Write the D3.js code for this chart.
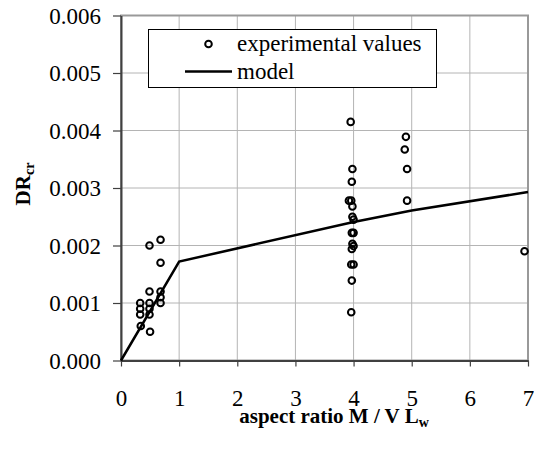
<!DOCTYPE html>
<html>
<head>
<meta charset="utf-8">
<script src="https://cdn.jsdelivr.net/npm/d3@7"></script>
<style>
  body { margin: 0; background: #fff; }
  svg text { font-family: "Liberation Serif", "Times New Roman", serif; fill: #000; }
</style>
</head>
<body>
<div id="chart-area"></div>
<script>
// values
var expX = [0.33, 0.33, 0.33, 0.34,
            0.49, 0.49, 0.49, 0.49, 0.49, 0.50,
            0.68, 0.68, 0.68, 0.68, 0.68,
            3.95, 3.98, 3.97, 3.92, 3.96, 3.98, 3.98, 4.00, 3.97, 4.00, 3.98, 4.00, 3.97, 3.96, 4.00, 3.97, 3.96,
            4.90, 4.88, 4.92, 4.92,
            6.94];
var expY = [0.0010, 0.0009, 0.0008, 0.0006,
            0.0020, 0.0012, 0.0010, 0.0009, 0.0008, 0.0005,
            0.0021, 0.0017, 0.0012, 0.0011, 0.0010,
            0.00415, 0.00333, 0.00311, 0.00278, 0.00278, 0.00268, 0.00250, 0.00245, 0.00222, 0.00222, 0.00203, 0.00199, 0.00194, 0.00167, 0.00167, 0.00139, 0.00084,
            0.00389, 0.00367, 0.00333, 0.00278,
            0.00190];
var modelX = [0, 1, 4, 5, 7];
var modelY = [0, 0.00172, 0.00241, 0.00261, 0.00293];
var xTicks = [0, 1, 2, 3, 4, 5, 6, 7];
var yTicks = [0, 0.001, 0.002, 0.003, 0.004, 0.005, 0.006];
var legendLabels = ["experimental values", "model"];

var margin = {top: 15.5, right: 6, bottom: 95.5, left: 121};
var W = 534, H = 456;
var w = W - margin.left - margin.right;
var h = H - margin.top - margin.bottom;

var svg = d3.select("#chart-area").append("svg")
	.attr("width", W)
	.attr("height", H);

var g = svg.append("g")
	.attr("transform", "translate(" + margin.left + "," + margin.top + ")");

var x = d3.scaleLinear().domain([0, 7]).range([0, w]);
var y = d3.scaleLinear().domain([0, 0.006]).range([h, 0]);

// grid
g.selectAll(".vgrid").data(xTicks.slice(1, -1)).enter().append("line")
	.attr("x1", function(d){ return x(d); })
	.attr("x2", function(d){ return x(d); })
	.attr("y1", 0).attr("y2", h)
	.attr("stroke", "#b4b4b4").attr("stroke-width", 1);
g.selectAll(".hgrid").data(yTicks.slice(1, -1)).enter().append("line")
	.attr("y1", function(d){ return y(d); })
	.attr("y2", function(d){ return y(d); })
	.attr("x1", 0).attr("x2", w)
	.attr("stroke", "#b4b4b4").attr("stroke-width", 1);

// frame (top and right)
g.append("rect")
	.attr("x", 0).attr("y", 0).attr("width", w).attr("height", h)
	.attr("fill", "none").attr("stroke", "#999").attr("stroke-width", 2);

// axes
var xAxis = g.append("g")
	.attr("transform", "translate(0," + h + ")")
	.call(d3.axisBottom(x).tickValues(xTicks).tickSize(6).tickSizeOuter(0).tickPadding(23).tickFormat(d3.format("d")));
var yAxis = g.append("g")
	.call(d3.axisLeft(y).tickValues(yTicks).tickSize(8).tickSizeOuter(0).tickPadding(12).tickFormat(d3.format(".3f")));

[xAxis, yAxis].forEach(function(a){
	a.attr("font-family", "Liberation Serif").attr("font-size", 23);
	a.select(".domain").attr("stroke", "#404040").attr("stroke-width", 2);
	a.selectAll(".tick line").attr("stroke", "#404040").attr("stroke-width", 1.2);
	a.selectAll("text").attr("fill", "#000");
});
yAxis.selectAll("text").attr("dy", "0.34em");

// model line
var line = d3.line()
	.x(function(d){ return x(d[0]); })
	.y(function(d){ return y(d[1]); });
g.append("path")
	.datum(d3.zip(modelX, modelY))
	.attr("d", line)
	.attr("fill", "none")
	.attr("stroke", "#000")
	.attr("stroke-width", 2.5);

// experimental points
g.selectAll("circle.dot").data(d3.zip(expX, expY)).enter().append("circle")
	.attr("class", "dot")
	.attr("cx", function(d){ return x(d[0]); })
	.attr("cy", function(d){ return y(d[1]); })
	.attr("r", 3.3)
	.attr("fill", "none")
	.attr("stroke", "#000")
	.attr("stroke-width", 2);

// legend
var leg = svg.append("g");
leg.append("rect")
	.attr("x", 148.5).attr("y", 29.5).attr("width", 288).attr("height", 58)
	.attr("fill", "#fff").attr("stroke", "#000").attr("stroke-width", 1);
leg.append("circle")
	.attr("cx", 208.5).attr("cy", 44).attr("r", 3.3)
	.attr("fill", "none").attr("stroke", "#000").attr("stroke-width", 2);
leg.append("line")
	.attr("x1", 185).attr("x2", 232).attr("y1", 71.5).attr("y2", 71.5)
	.attr("stroke", "#000").attr("stroke-width", 2.5);
leg.selectAll("text.lab").data(legendLabels).enter().append("text")
	.attr("class", "lab")
	.attr("x", 237)
	.attr("y", function(d, i){ return 51 + i * 27.5; })
	.style("font-size", "23px")
	.text(function(d){ return d; });

// axis titles
var xt = svg.append("text")
	.attr("x", 334).attr("y", 423)
	.attr("text-anchor", "middle")
	.style("font-size", "21px").style("font-weight", "bold");
xt.append("tspan").text("aspect ratio M / V L");
xt.append("tspan").attr("baseline-shift", "-28%").style("font-size", "14px").text("w");

var yt = svg.append("text")
	.attr("transform", "translate(30,184) rotate(-90)")
	.attr("text-anchor", "middle")
	.style("font-size", "21px").style("font-weight", "bold");
yt.append("tspan").text("DR");
yt.append("tspan").attr("baseline-shift", "-28%").style("font-size", "14px").text("cr");
</script>
</body>
</html>
